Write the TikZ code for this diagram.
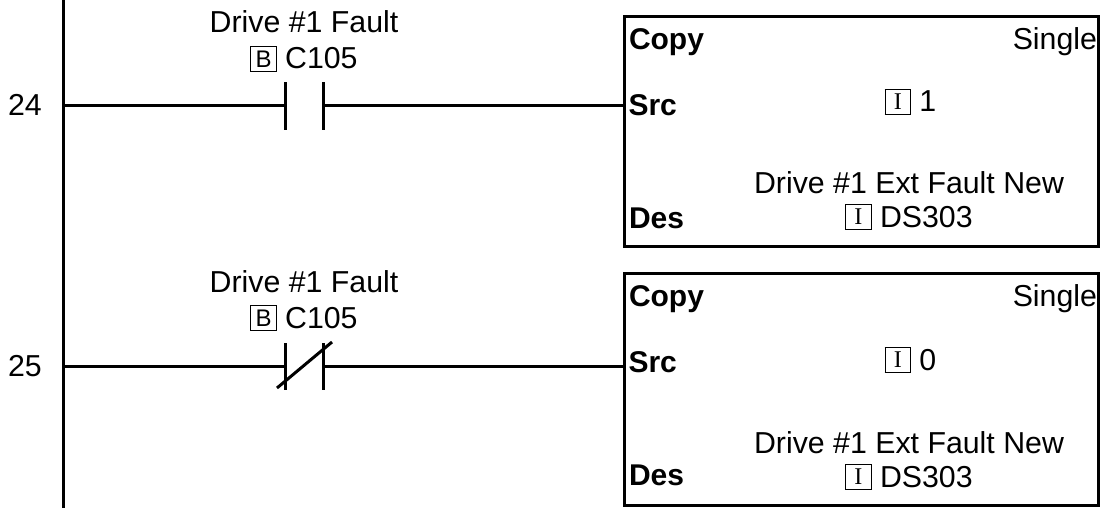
\documentclass[tikz,border=0pt]{standalone}
\usepackage{fontspec}
\usepackage{tikz}
\setmainfont{Liberation Sans}
\newfontfamily\tagfont{Liberation Serif}
\newcommand{\tagbox}[1]{\raisebox{-2pt}{\setlength{\fboxsep}{0pt}\setlength{\fboxrule}{0.9pt}\fbox{\vbox to 24.5pt{\vss\hbox to 24.5pt{\hss\fontsize{24}{24}\selectfont#1\hss}\vss}}}}

\begin{document}
\begin{tikzpicture}[x=1pt,y=-1pt,node distance=38pt,line width=3pt,outer sep=0pt,
plate/.style={draw=none,fill=black,inner sep=0pt,minimum width=3pt,minimum height=47pt},
block/.style={draw,inner sep=0pt,anchor=north west,minimum width=474.5pt},
txt/.style={inner sep=0pt,anchor=base,font=\fontsize{30.3}{30.3}\selectfont},
key/.style={inner sep=0pt,anchor=base west,font=\fontsize{30}{30}\selectfont\bfseries}]
\useasboundingbox (0,0) rectangle (1102,508);
\coordinate (railtop) at (63,0);
\coordinate (railbot) at (63,508);
\coordinate (rail24) at (63,106);
\coordinate (rail25) at (63,366);
\coordinate (slashA) at (277,388);
\coordinate (slashB) at (332,342);
\node[plate] (N1) at (285,106) {};
\node[plate, right of=N1] (N2) {};
\node[plate] (M1) at (285,366) {};
\node[plate, right of=M1] (M2) {};
\node[block, minimum height=229.7pt] (Copy1) at (624,17) {};
\node[block, minimum height=232pt] (Copy2) at (624,273.3) {};
\node[txt] (L24) at (25,116) {24};
\node[txt] (L25) at (25,376) {25};
\node[txt] (A1) at (304,33) {Drive \#1 Fault};
\node[txt] (A2) at (304,69) {\tagbox{B} C105};
\node[txt] (B1) at (304,292) {Drive \#1 Fault};
\node[txt] (B2) at (304,328) {\tagbox{B} C105};
\node[key] (C1) at (629,50) {Copy};
\node[key] (S1) at (628.5,116) {Src};
\node[key] (D1) at (629,228) {Des};
\node[key] (C2) at (629,306) {Copy};
\node[key] (S2) at (628.5,372) {Src};
\node[key] (D2) at (629,485) {Des};
\node[txt, anchor=base east] (T1) at (1097,50) {Single};
\node[txt, anchor=base east] (T2) at (1097,306) {Single};
\node[txt] (V1) at (910.5,112) {\tagbox{\tagfont I} 1};
\node[txt] (V2) at (910.5,370) {\tagbox{\tagfont I} 0};
\node[txt] (E1) at (909,193) {Drive \#1 Ext Fault New};
\node[txt] (F1) at (909,227) {\tagbox{\tagfont I} DS303};
\node[txt] (E2) at (909,453) {Drive \#1 Ext Fault New};
\node[txt] (F2) at (909,487) {\tagbox{\tagfont I} DS303};
\path[draw]
(railtop) edge (railbot)
(rail24) edge (N1)
(N2) edge (N2 -| Copy1.west)
(rail25) edge (M1)
(M2) edge (M2 -| Copy2.west)
(slashA) edge (slashB);
\end{tikzpicture}
\end{document}
